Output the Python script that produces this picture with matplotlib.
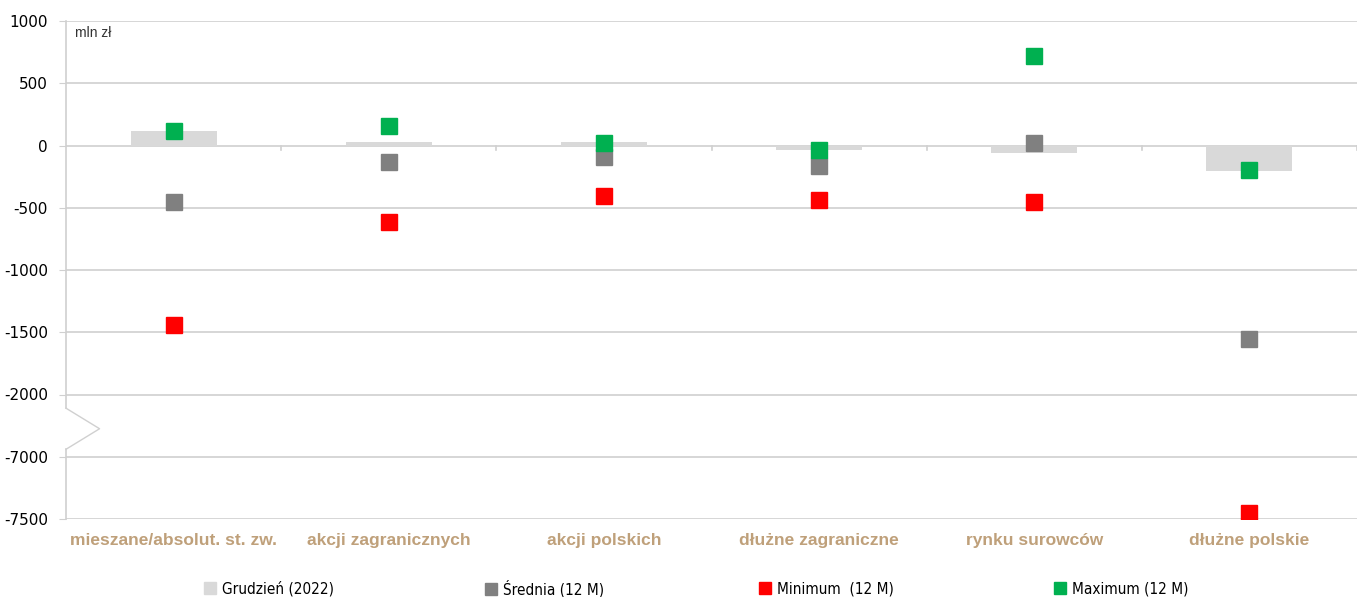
import matplotlib
matplotlib.use("Agg")
import matplotlib.pyplot as plt
import matplotlib.transforms as mtransforms
from matplotlib.lines import Line2D
import numpy as np

categories = ["mieszane/absolut. st. zw.", "akcji zagranicznych", "akcji polskich",
              "dłużne zagraniczne", "rynku surowców", "dłużne polskie"]
grudzien = [120, 25, 25, -35, -58, -205]
srednia = [-455, -135, -90, -165, 20, -1555]
minimum = [-1445, -615, -405, -440, -455, -7450]
maximum = [115, 157, 20, -40, 720, -197]
tick_values = [1000, 500, 0, -500, -1000, -1500, -2000, -7000, -7500]
legend_labels = ["Grudzień (2022)", "Średnia (12 M)", "Minimum  (12 M)", "Maximum (12 M)"]

BREAK_SHIFT = 4500  # values below -2000 are shifted up by this amount


def tr(v):
    v = np.asarray(v, dtype=float)
    return np.where(v < -2000, v + BREAK_SHIFT, v)


plt.rcParams['font.family'] = ['DejaVu Sans']
fig = plt.figure(figsize=(13.59, 5.97), dpi=100)
W, H = 1359, 597
ax = fig.add_axes([66 / W, (H - 519) / H, (1357 - 66) / W, (519 - 21) / H])

x = np.arange(len(categories))
grid_c = '#d0d0d0'
colors = ['#d9d9d9', '#808080', '#ff0000', '#00b050']
ax.bar(x, tr(grudzien), width=0.4, color=colors[0], zorder=2)
ms = 11
ax.plot(x, tr(srednia), 's', color=colors[1], ms=ms, zorder=3, mec=colors[1])
ax.plot(x, tr(minimum), 's', color=colors[2], ms=ms, zorder=3, mec=colors[2])
ax.plot(x, tr(maximum), 's', color=colors[3], ms=ms, zorder=3, mec=colors[3])

ax.set_xlim(-0.5, len(categories) - 0.5)
ax.set_ylim(-3000, 1000)
tpos = tr(tick_values)
ax.set_yticks(tpos)
ax.set_yticklabels([str(t) for t in tick_values], fontsize=11, fontfamily='DejaVu Sans')
for t in tpos:
    ax.axhline(t, color=grid_c, lw=1.2, zorder=1)
ax.tick_params(axis='y', length=5, color=grid_c, pad=8)

ax.set_xticks(x)
ax.set_xticklabels(categories, fontsize=12.5, fontweight='bold', color='#bfa07a',
                   fontfamily='Liberation Sans')
ax.tick_params(axis='x', length=0, pad=10)

for s in ['top', 'right', 'bottom', 'left']:
    ax.spines[s].set_visible(False)

# left spine with break
trans = ax.get_yaxis_transform()
ax.plot([0, 0], [-2110, 1000], color=grid_c, lw=1.2, transform=trans, clip_on=False, zorder=1)
ax.plot([0, 0], [-3000, -2440], color=grid_c, lw=1.2, transform=trans, clip_on=False, zorder=1)
ax.plot([0, 0.026, 0], [-2110, -2275, -2440], color=grid_c, lw=1.0, transform=trans,
        clip_on=False, zorder=1)

# small category boundary ticks on the zero line
for b in np.arange(0.5, len(categories) - 0.5 + 1e-9, 1.0):
    ax.plot([b, b], [0, -40], color=grid_c, lw=1.2, zorder=1)

blend = mtransforms.blended_transform_factory(fig.transFigure, ax.transData)
ax.text(75 / W, 900, "mln zł", transform=blend, fontsize=10,
        fontfamily='Liberation Sans', va='center', ha='left', color='#333333')

leg_x = [205, 486, 760, 1055]
for xi, c, lab in zip(leg_x, colors, legend_labels):
    h = Line2D([], [], ls='none', marker='s', ms=8, color=c, mec=c)
    fig.legend([h], [lab], loc='center left', bbox_to_anchor=(xi / W, (H - 589) / H),
               frameon=False, prop={'family': 'DejaVu Sans', 'size': 11, 'stretch': 'condensed'},
               handletextpad=0.4, handlelength=0.7, borderaxespad=0, borderpad=0)

fig.savefig("out.png", dpi=100)
